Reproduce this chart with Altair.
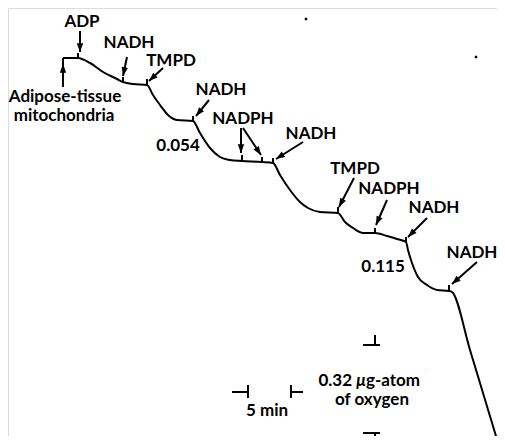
import math
import altair as alt
import pandas as pd

# ---- oxygen-electrode trace (reference pixel coordinates) ----
trace_x = [63, 78, 90, 103, 117, 123, 133, 147, 153, 160, 168, 177, 193, 200, 210, 220, 230, 242,
           262, 273, 280, 290, 300, 308, 320, 338, 345, 353, 363, 375, 387, 397, 406, 408, 412,
           418, 427, 437, 449, 452, 470, 483, 499]
trace_y = [58, 58, 63, 72, 79, 82, 84, 85, 95, 105, 115, 120, 121, 133, 148, 157, 160, 161,
           162, 163, 175, 190, 202, 208, 212, 213, 222, 228, 233, 233, 236, 239, 242, 250, 263,
           277, 285, 290, 291, 292, 350, 393, 446]

# addition ticks
tick_x = [63, 78, 123, 147, 193, 242, 262, 273, 338, 375, 406, 449]
tick_top = [58, 53, 77, 79, 116, 155, 157, 158, 207, 228, 237, 285]
tick_bottom = [64, 58, 82, 85, 121, 161, 162, 163, 213, 233, 242, 291]

# arrows (tail -> tip)
arrow_x1 = [80, 127, 163, 63, 209, 241, 243, 303, 354, 387, 427, 477]
arrow_y1 = [31, 57, 68, 87, 100, 128, 128, 142, 178, 200, 218, 262]
arrow_x2 = [80, 123, 149, 63, 196, 241, 261, 276, 339, 376, 408, 452]
arrow_y2 = [52, 76, 81, 64, 116, 153, 155, 159, 207, 225, 237, 284]

# labels (centre x, baseline y)
label_text = ["ADP", "NADH", "TMPD", "Adipose-tissue", "mitochondria", "NADH", "0.054",
              "NADPH", "NADH", "TMPD", "NADPH", "NADH", "0.115", "NADH",
              "5 min", "of oxygen"]
label_x = [82, 129, 171, 65, 64, 221, 178, 243, 311, 355, 389, 434, 383, 472, 267, 372]
label_y = [27, 48, 66, 102, 121, 95, 151, 124, 139, 174, 194, 213, 272, 258, 416, 405]

# "0.32 μg-atom" in three pieces (μ italic)
unit_text = ["0.32", "\u03bc", "g-atom"]
unit_x = [352, 361, 366]
unit_align = ["right", "center", "left"]
unit_style = ["normal", "italic", "normal"]
unit_y = [386, 386, 386]

# scale bars (segments)
bar_x1 = [232, 248, 291, 291, 363, 375, 363, 375]
bar_y1 = [392, 385, 385, 392, 345, 335, 433, 433]
bar_x2 = [248, 248, 291, 303, 380, 375, 380, 375]
bar_y2 = [392, 398, 398, 392, 345, 345, 433, 446]

# scan specks
speck_x = [306, 476]
speck_y = [19, 57]

FONT = "Lato"
XS = alt.Scale(domain=[8, 497])
YS = alt.Scale(domain=[8, 436], reverse=True)

trace_df = pd.DataFrame({"x": trace_x, "y": trace_y, "o": range(len(trace_x))})

seg_rows = []
for x, t, b in zip(tick_x, tick_top, tick_bottom):
    seg_rows.append({"x": x, "y": t, "x2": x, "y2": b})
for a, b, c, d in zip(arrow_x1, arrow_y1, arrow_x2, arrow_y2):
    seg_rows.append({"x": a, "y": b, "x2": c, "y2": d})
for a, b, c, d in zip(bar_x1, bar_y1, bar_x2, bar_y2):
    seg_rows.append({"x": a, "y": b, "x2": c, "y2": d})
seg_df = pd.DataFrame(seg_rows)

head_rows = []
for a, b, c, d in zip(arrow_x1, arrow_y1, arrow_x2, arrow_y2):
    ang = math.degrees(math.atan2(c - a, -(d - b))) % 360
    head_rows.append({"x": c, "y": d, "angle": ang})
head_df = pd.DataFrame(head_rows)

label_df = pd.DataFrame({"x": label_x, "y": label_y, "t": label_text})
speck_df = pd.DataFrame({"x": speck_x, "y": speck_y})

enc_x = alt.X("x:Q", scale=XS, axis=None)
enc_y = alt.Y("y:Q", scale=YS, axis=None)

trace = alt.Chart(trace_df).mark_line(interpolate="monotone", color="black", strokeWidth=2).encode(
    x=enc_x, y=enc_y, order="o:Q",
)

segs = alt.Chart(seg_df).mark_rule(color="black", strokeWidth=2).encode(
    x=enc_x, y=enc_y, x2="x2:Q", y2="y2:Q",
)

heads = alt.Chart(head_df).mark_point(
    shape="M0,0L-0.7,1.9L0.7,1.9Z", filled=True, color="black", opacity=1, size=85, strokeWidth=0
).encode(
    x=enc_x, y=enc_y, angle=alt.Angle("angle:Q", scale=None),
)

labels = alt.Chart(label_df).mark_text(
    font=FONT, fontSize=17, fontWeight="bold", color="black", align="center", baseline="alphabetic"
).encode(x=enc_x, y=enc_y, text="t:N")

unit_layers = []
for t, x, y, al, st in zip(unit_text, unit_x, unit_y, unit_align, unit_style):
    df = pd.DataFrame({"x": [x], "y": [y], "t": [t]})
    unit_layers.append(
        alt.Chart(df).mark_text(
            font=FONT, fontSize=17, fontWeight="bold", fontStyle=st, color="black",
            align=al, baseline="alphabetic"
        ).encode(x=enc_x, y=enc_y, text="t:N")
    )

specks = alt.Chart(speck_df).mark_square(color="black", size=6, opacity=1).encode(x=enc_x, y=enc_y)

chart = alt.layer(trace, segs, heads, labels, *unit_layers, specks).properties(
    width=489, height=428, padding=0, autosize=alt.AutoSizeParams(type="none")
).configure_view(stroke=None).configure(background="white")

chart.save("out.html", embed_options={"renderer": "svg", "actions": False})
